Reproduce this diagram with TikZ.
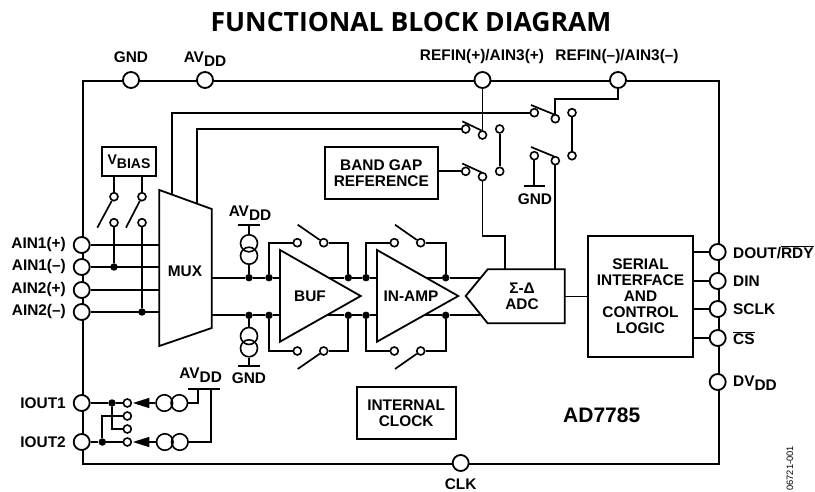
\documentclass[tikz,border=0pt]{standalone}
\usepackage{fontspec}
\setmainfont{Liberation Sans}
\newfontfamily\titlefont{Open Sans}
\newcommand{\lbl}[1]{\fontsize{15.4}{16}\selectfont\bfseries #1}
\newcommand{\subs}[1]{\raisebox{-0.28em}{#1}}
\newcommand{\ovl}[1]{$\overline{\hbox{#1}}$}
\tikzset{
  x=1pt,y=-1pt,
  heavy/.style={line width=2.2pt},
  wire/.style={line width=1.7pt},
  pin/.style={circle,draw,fill=white,line width=1.8pt,inner sep=0pt,minimum size=16pt},
  sw/.style={circle,draw,fill=white,line width=1.6pt,inner sep=0pt,minimum size=8pt},
  jn/.style={circle,fill=black,inner sep=0pt,minimum size=7.5pt},
  src/.style={circle,draw,line width=1.6pt,inner sep=0pt,minimum size=17pt},
  block/.style={draw,line width=1.8pt,inner sep=0pt,align=center,font=\lbl{}},
  txt/.style={inner sep=0pt,align=center,font=\lbl{}},
  txtl/.style={txt,anchor=west},
  txtr/.style={txt,anchor=east},
  amp/.style={line width=1.8pt,fill=white,line join=miter},
  arrowtri/.style={fill=black,draw=none},
}
\begin{document}
\begin{tikzpicture}
\useasboundingbox (0,0) rectangle (815,492);
% frame
\node[inner sep=0pt,minimum width=636pt,minimum height=383pt,anchor=north west,draw,heavy] (frame) at (81.7,80) {};
% title
\node[inner sep=0pt,font=\titlefont\fontsize{26.5}{30}\selectfont\bfseries] (title) at (411,22) {FUNCTIONAL BLOCK DIAGRAM};
% pins
\node[pin] (gnd) at (131,80) {};
\node[pin] (avdd) at (205,80) {};
\node[pin] (refp) at (482.5,80) {};
\node[pin] (refm) at (618,80) {};
\node[pin] (a1p) at (81.7,245) {};
\node[pin] (a1m) at (81.7,267) {};
\node[pin] (a2p) at (81.7,290) {};
\node[pin] (a2m) at (81.7,312) {};
\node[pin] (io1) at (81.7,403) {};
\node[pin] (io2) at (81.7,442) {};
\node[pin] (dout) at (717.7,252) {};
\node[pin] (din) at (717.7,281) {};
\node[pin] (sclk) at (717.7,309) {};
\node[pin] (cs) at (717.7,338) {};
\node[pin] (dvdd) at (717.7,382) {};
\node[pin] (clk) at (460.7,463) {};
% pin labels
\node[txt] (lgnd) at (131,57) {GND};
\node[txt] (lavdd) at (205,59) {AV\subs{DD}};
\node[txt] (lrefp) at (482,57) {REFIN(+)/AIN3(+)};
\node[txt] (lrefm) at (617,57) {REFIN(–)/AIN3(–)};
\node[txtr] (la1p) at (66,245) {AIN1(+)};
\node[txtr] (la1m) at (66,267) {AIN1(–)};
\node[txtr] (la2p) at (66,290) {AIN2(+)};
\node[txtr] (la2m) at (66,312) {AIN2(–)};
\node[txtr] (lio1) at (66,403) {IOUT1};
\node[txtr] (lio2) at (66,442) {IOUT2};
\node[txtl] (ldout) at (733,252) {DOUT/\ovl{RDY}};
\node[txtl] (ldin) at (733,281) {DIN};
\node[txtl] (lsclk) at (733,309) {SCLK};
\node[txtl] (lcs) at (733,338) {\ovl{CS}};
\node[txtl] (ldvdd) at (733,383) {DV\subs{DD}};
\node[txt] (lclk) at (460.7,484) {CLK};
\node[inner sep=0pt,rotate=90,anchor=east,font=\fontsize{9.3}{12}\selectfont] (serial) at (790,446) {06721-001};
\node[inner sep=0pt,font=\fontsize{21}{24}\selectfont\bfseries] (part) at (601.7,415) {AD7785};
% blocks
\node[block,minimum width=54.5pt,minimum height=29.5pt] (vbias) at (129,161.5) {\fontsize{14}{14}\selectfont V\subs{BIAS}};
\node[block,minimum width=112.7pt,minimum height=52.5pt] (bandgap) at (381.3,173) {BAND GAP\\REFERENCE};
\node[block,minimum width=99pt,minimum height=52.5pt] (intclk) at (406.2,413) {INTERNAL\\CLOCK};
\node[block,minimum width=104.4pt,minimum height=121.6pt] (serialbox) at (640.5,296.5) {SERIAL\\INTERFACE\\AND\\CONTROL\\LOGIC};
% MUX
\coordinate (muxtl) at (159.3,190);
\coordinate (muxtr) at (211.7,209);
\coordinate (muxbr) at (211.7,328);
\coordinate (muxbl) at (159.3,346);
\draw[amp] (muxtl) -- (muxtr) -- (muxbr) -- (muxbl) -- cycle;
\node[txt] (muxl) at (185,271.7) {MUX};
% amps
\coordinate (bufa) at (280,250);
\coordinate (bufb) at (280,341.7);
\coordinate (bufc) at (360.7,296);
\coordinate (ina) at (377,250);
\coordinate (inb) at (377,341.7);
\coordinate (inc) at (458.3,296);
\draw[amp] (bufa) -- (bufc) -- (bufb) -- cycle;
\draw[amp] (ina) -- (inc) -- (inb) -- cycle;
\node[txt] (bufl) at (310,296.7) {BUF};
\node[txt] (inl) at (411,296.7) {IN-AMP};
% ADC
\coordinate (adcl) at (465.7,296);
\coordinate (adct) at (487.7,269.3);
\coordinate (adctr) at (564.7,269.3);
\coordinate (adcbr) at (564.7,323.3);
\coordinate (adcb) at (487.7,323.3);
\draw[amp] (adcl) -- (adct) -- (adctr) -- (adcbr) -- (adcb) -- cycle;
\node[txt] (adcname) at (522,296) {Σ-Δ\\[0pt]ADC};
% AIN wires
\coordinate (m1) at (159.3,245);
\coordinate (m2) at (159.3,267);
\coordinate (m3) at (159.3,290);
\coordinate (m4) at (159.3,312);
\draw[wire] (a1p) -- (m1);
\draw[wire] (a1m) -- (m2);
\draw[wire] (a2p) -- (m3);
\draw[wire] (a2m) -- (m4);
% VBIAS switches
\node[sw] (vs1) at (114,196.7) {};
\node[sw] (vs2) at (142,196.7) {};
\node[sw] (vs3) at (114,222.7) {};
\node[sw] (vs4) at (142,222.7) {};
\node[jn] (vj1) at (114,267) {};
\node[jn] (vj2) at (142,312) {};
\coordinate (varm1) at (97.3,227.7);
\coordinate (varm2) at (126,227.7);
\draw[wire] (vbias.south -| vs1) -- (vs1);
\draw[wire] (vbias.south -| vs2) -- (vs2);
\draw[wire] (vs3) -- (vj1);
\draw[wire] (vs4) -- (vj2);
\draw[wire] (vs1) -- (varm1);
\draw[wire] (vs2) -- (varm2);
% MUX top wires and upper switches
\node[sw] (s1l) at (465.7,129) {};
\node[sw] (s1r) at (482.5,135) {};
\node[sw] (s1o) at (499.7,129) {};
\node[sw] (s2l) at (465.7,171.3) {};
\node[sw] (s2r) at (482.5,176.7) {};
\node[sw] (s2o) at (499.7,171.3) {};
\node[sw] (s3l) at (534.3,112.7) {};
\node[sw] (s3r) at (555.3,118.7) {};
\node[sw] (s3o) at (572,112.7) {};
\node[sw] (s4l) at (534.3,155.7) {};
\node[sw] (s4r) at (555.3,160.7) {};
\node[sw] (s4o) at (572,155.7) {};
\coordinate (mt1) at (172.3,194.8);
\coordinate (mt2) at (196.7,203.6);
\draw[wire] (mt1) |- (s3l);
\draw[wire] (mt2) |- (s1l);
\draw[wire] (refp) -- (s1r);
\draw[wire] (s1o) -- (s2o);
\draw[wire] (s3o) -- (s4o);
\draw[wire] (bandgap.east |- s2l) -- (s2l);
\coordinate (refbend) at (618,99.3);
\draw[wire] (refm) -- (refbend) -- (s3r.north |- refbend) -- (s3r);
\coordinate (a1) at (462.3,121.3);
\coordinate (a2) at (462.3,163.5);
\coordinate (a3) at (531,105);
\coordinate (a4) at (531,147);
\draw[wire] (a1) -- (481.5,130.5);
\draw[wire] (a2) -- (481.5,172.4);
\draw[wire] (a3) -- (554,114.4);
\draw[wire] (a4) -- (554,156.4);
\coordinate (gbar) at (534.3,185.7);
\draw[wire] (s4l) -- (gbar);
\draw[wire] ([xshift=-10.7pt]gbar) -- ([xshift=10.7pt]gbar);
\node[txt] (lg1) at (535,199.5) {GND};
\coordinate (adcin) at (505,269.3);
\coordinate (bend2) at (505,236);
\draw[wire] (s2r) |- (bend2) -- (adcin);
\draw[wire] (s4r) -- (s4r |- adct);
% signal path
\node[jn] (t1) at (249,277.7) {};
\node[jn] (t2) at (269,277.7) {};
\node[jn] (t3) at (348.3,277.7) {};
\node[jn] (t4) at (366,277.7) {};
\node[jn] (t5) at (445.7,277.7) {};
\node[jn] (b1) at (249,315.3) {};
\node[jn] (b2) at (269,315.3) {};
\node[jn] (b3) at (348.3,315.3) {};
\node[jn] (b4) at (366,315.3) {};
\node[jn] (b5) at (445.7,315.3) {};
\draw[wire] (211.7,277.7) -- (t1) -- (t2) -- (280,277.7);
\draw[wire] (211.7,315.3) -- (b1) -- (b2) -- (280,315.3);
\draw[wire] (328.6,277.7) -- (t3) -- (t4) -- (377,277.7);
\draw[wire] (326.6,315.3) -- (b3) -- (b4) -- (377,315.3);
\draw[wire] (425.6,277.7) -- (t5) -- (480.8,277.7);
\draw[wire] (423.6,315.3) -- (b5) -- (481.4,315.3);
% feedback switches
\node[sw] (f1a) at (297.3,242.7) {};
\node[sw] (f1b) at (323.7,242.7) {};
\node[sw] (f2a) at (394.3,242.7) {};
\node[sw] (f2b) at (420.7,242.7) {};
\node[sw] (f3a) at (297.3,351) {};
\node[sw] (f3b) at (323.7,351) {};
\node[sw] (f4a) at (394.3,351) {};
\node[sw] (f4b) at (420.7,351) {};
\draw[wire] (t2) |- (f1a);
\draw[wire] (f1b) -| (t3);
\draw[wire] (t4) |- (f2a);
\draw[wire] (f2b) -| (t5);
\draw[wire] (b2) |- (f3a);
\draw[wire] (f3b) -| (b3);
\draw[wire] (b4) |- (f4a);
\draw[wire] (f4b) -| (b5);
\draw[wire] (297.7,224.7) -- (f1b);
\draw[wire] (395,224.7) -- (f2b);
\draw[wire] (297.7,369) -- (f3b);
\draw[wire] (395,369) -- (f4b);
% AVDD / GND current sources
\node[src] (c1) at (249,243.3) {};
\node[src] (c2) at (249,255.7) {};
\node[src] (c3) at (249,336) {};
\node[src] (c4) at (249,348.3) {};
\coordinate (bar1) at (249,225);
\coordinate (bar2) at (249,365.7);
\draw[wire] ([xshift=-11pt]bar1) -- ([xshift=11pt]bar1);
\draw[wire] ([xshift=-11pt]bar2) -- ([xshift=11pt]bar2);
\draw[wire] (bar1) -- (c1);
\draw[wire] (c2) -- (t1);
\draw[wire] (b1) -- (c3);
\draw[wire] (c4) -- (bar2);
\node[txt] (lav1) at (250,213.5) {AV\subs{DD}};
\node[txt] (lg2) at (249,378.5) {GND};
% ADC to serial, serial to pins
\draw[wire] (adctr |- serialbox) -- (serialbox);
\draw[wire] (serialbox.east |- dout) -- (dout);
\draw[wire] (serialbox.east |- din) -- (din);
\draw[wire] (serialbox.east |- sclk) -- (sclk);
\draw[wire] (serialbox.east |- cs) -- (cs);
% IOUT
\node[jn] (ij1) at (112,403) {};
\node[jn] (ij2) at (102.3,442) {};
\node[sw] (i1) at (127.3,403) {};
\node[sw] (i2) at (127.3,416) {};
\node[sw] (i3) at (127.3,429) {};
\node[sw] (i4) at (127.3,442) {};
\node[src,minimum size=16.5pt] (cs1) at (164.3,403) {};
\node[src,minimum size=16.5pt] (cs2) at (179.3,403) {};
\node[src,minimum size=16.5pt] (cs3) at (164.8,442) {};
\node[src,minimum size=16.5pt] (cs4) at (179.8,442) {};
\draw[wire] (io1) -- (ij1) -- (i1);
\draw[wire] (io2) -- (ij2) -- (i4);
\draw[wire] (ij2) |- (i2);
\draw[wire] (ij1) |- (i3);
\fill[arrowtri] (133,403) -- (149.3,397.8) -- (149.3,408.2) -- cycle;
\fill[arrowtri] (133,442) -- (149.3,436.8) -- (149.3,447.2) -- cycle;
\draw[wire] (149.3,403) -- (cs1);
\draw[wire] (149.3,442) -- (cs3);
\coordinate (ibar) at (204,389.3);
\draw[wire] ([xshift=-16.3pt]ibar) -- ([xshift=16.3pt]ibar);
\draw[wire] (cs2) -| (198.3,389.3);
\draw[wire] (cs4) -| (210.7,389.3);
\node[txt] (lav2) at (200.7,375) {AV\subs{DD}};
\end{tikzpicture}
\end{document}
